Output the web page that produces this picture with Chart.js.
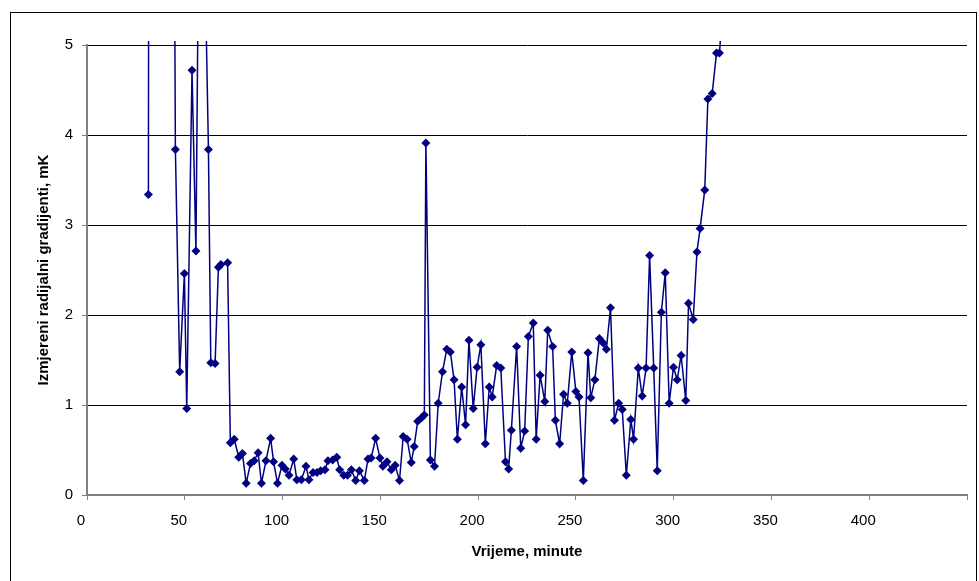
<!DOCTYPE html>
<html>
<head>
<meta charset="utf-8">
<script src="https://cdn.jsdelivr.net/npm/chart.js@4.4.1/dist/chart.umd.min.js"></script>
<style>
  html, body { margin: 0; padding: 0; background: #fff; }
</style>
</head>
<body>
<canvas id="chart" width="979" height="581"></canvas>
<script>
// vrijeme (minute) i izmjereni gradijenti (mK); vrijednosti iznad 5 su izvan grafa
const minutes = [
  31.4, 32.5, 40, 43.5, 45.2, 47.4, 49.8, 51.0, 53.7, 55.7, 57.5, 60.0,
  62.1, 63.3, 65.5, 67.2, 68.5, 71.9, 73.3, 75.3, 77.6, 79.5, 81.4, 83.6,
  85.5, 87.5, 89.2, 91.5, 93.9, 95.4, 97.4, 99.7, 101.4, 103.3, 105.7, 107.3,
  109.6, 112.0, 113.5, 115.6, 117.6, 119.5, 121.7, 123.2, 125.6, 127.7, 129.2, 131.3,
  133.2, 135.2, 137.4, 139.3, 141.8, 143.7, 145.3, 147.6, 149.8, 151.3, 153.4, 155.6,
  157.6, 159.8, 161.7, 163.7, 165.8, 167.3, 169.1, 171.2, 172.5, 173.3, 175.6, 177.7,
  179.6, 181.8, 184.0, 185.8, 187.7, 189.4, 191.6, 193.6, 195.3, 197.5, 199.5, 201.4,
  203.7, 205.7, 207.2, 209.5, 211.6, 214.0, 215.6, 217.0, 219.7, 221.8, 223.8, 225.7,
  228.2, 229.7, 231.7, 234.1, 235.6, 238.1, 239.5, 241.7, 243.7, 245.6, 247.9, 250.0,
  251.6, 253.8, 256.2, 257.6, 259.7, 262.0, 264.0, 265.6, 267.7, 269.7, 271.9, 273.7,
  275.8, 278.1, 279.5, 281.9, 283.9, 285.9, 287.7, 289.8, 291.6, 293.7, 295.7, 297.7,
  299.9, 301.8, 303.8, 306.2, 307.6, 310.0, 311.9, 313.5, 315.9, 317.5, 319.7, 321.9,
  323.4, 325.4
];
const gradients = [
  3.34, 25, 20, 12, 3.84, 1.37, 2.46, 0.96, 4.72, 2.71, 7.3, 6.3,
  3.84, 1.47, 1.46, 2.53, 2.56, 2.58, 0.58, 0.62, 0.42, 0.46, 0.13, 0.35,
  0.38, 0.47, 0.13, 0.38, 0.63, 0.37, 0.13, 0.33, 0.29, 0.22, 0.40, 0.17,
  0.17, 0.32, 0.17, 0.25, 0.25, 0.27, 0.28, 0.38, 0.39, 0.42, 0.28, 0.22,
  0.22, 0.28, 0.16, 0.27, 0.16, 0.40, 0.41, 0.63, 0.41, 0.32, 0.37, 0.28,
  0.33, 0.16, 0.65, 0.62, 0.36, 0.54, 0.82, 0.86, 0.89, 3.91, 0.39, 0.32,
  1.02, 1.37, 1.62, 1.59, 1.28, 0.62, 1.20, 0.78, 1.72, 0.96, 1.42, 1.67,
  0.57, 1.20, 1.09, 1.44, 1.41, 0.37, 0.29, 0.72, 1.65, 0.52, 0.71, 1.76,
  1.91, 0.62, 1.33, 1.04, 1.83, 1.65, 0.83, 0.57, 1.12, 1.02, 1.59, 1.15,
  1.09, 0.16, 1.58, 1.08, 1.28, 1.74, 1.69, 1.62, 2.08, 0.83, 1.02, 0.95,
  0.22, 0.84, 0.62, 1.41, 1.10, 1.41, 2.66, 1.41, 0.27, 2.03, 2.47, 1.02,
  1.42, 1.28, 1.55, 1.05, 2.13, 1.95, 2.70, 2.96, 3.39, 4.40, 4.46, 4.91,
  4.91, 5.5
];
const xTickLabels = [0, 50, 100, 150, 200, 250, 300, 350, 400];
const yTickLabels = [0, 1, 2, 3, 4, 5];

const frame = {
  id: 'frame',
  beforeDraw(chart) {
    const c = chart.ctx;
    c.save();
    c.fillStyle = '#fff';
    c.fillRect(0, 0, chart.width, chart.height);
    c.strokeStyle = '#000';
    c.lineWidth = 1;
    c.strokeRect(10.5, 12.5, 966, 600);
    c.restore();
  }
};

const font = { family: '"Liberation Sans", Arial, sans-serif', size: 15 };

new Chart(document.getElementById('chart'), {
  type: 'scatter',
  data: {
    datasets: [{
      data: minutes.map((m, i) => ({ x: m, y: gradients[i] })),
      showLine: true,
      borderColor: '#000080',
      backgroundColor: '#000080',
      borderWidth: 1.5,
      pointStyle: 'rectRot',
      pointRadius: 4.5,
      pointBorderWidth: 0,
      tension: 0,
      clip: { left: 2, top: 4, right: 2, bottom: 2 }
    }]
  },
  options: {
    responsive: false,
    animation: false,
    layout: { padding: { top: 45, right: 2, left: 0, bottom: 0 } },
    plugins: { legend: { display: false }, tooltip: { enabled: false } },
    scales: {
      x: {
        type: 'linear',
        min: 0,
        max: 450,
        afterFit(s) { s.height = 86; },
        ticks: {
          stepSize: 50,
          color: '#000',
          font: font,
          padding: 12,
          labelOffset: -6,
          maxRotation: 0,
          callback: v => xTickLabels.includes(v) ? v : ''
        },
        grid: { drawOnChartArea: false, tickColor: '#808080', tickLength: 5 },
        border: { color: '#808080', width: 2 },
        title: {
          display: true,
          text: 'Vrijeme, minute',
          color: '#000',
          font: { family: font.family, size: 15, weight: 'bold' },
          padding: { top: 0, bottom: 20 }
        }
      },
      y: {
        min: 0,
        max: 5,
        afterFit(s) { s.width = 87; },
        ticks: {
          stepSize: 1,
          color: '#000',
          font: font,
          padding: 9,
          callback: v => yTickLabels.includes(v) ? v : ''
        },
        grid: {
          color: ctx => ctx.tick && ctx.tick.value === 0 ? 'rgba(0,0,0,0)' : '#000',
          lineWidth: 1,
          tickColor: '#808080',
          tickLength: 5
        },
        border: { color: '#808080', width: 2 },
        title: {
          display: true,
          text: 'Izmjereni radijalni gradijenti, mK',
          color: '#000',
          font: { family: font.family, size: 15, weight: 'bold' },
          padding: { top: 35, bottom: 0 }
        }
      }
    }
  },
  plugins: [frame]
});
</script>
</body>
</html>
